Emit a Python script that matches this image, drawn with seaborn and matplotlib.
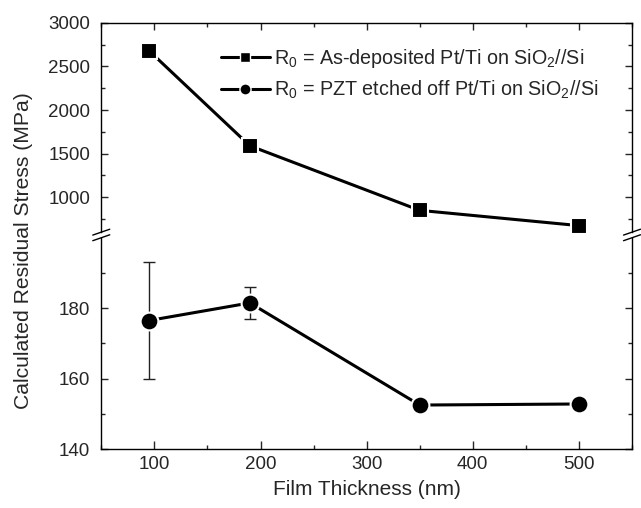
import matplotlib
matplotlib.use("Agg")
import matplotlib.pyplot as plt
from matplotlib.lines import Line2D
from matplotlib.ticker import MultipleLocator
import seaborn as sns

# Film thickness and residual stress values
thickness_nm = [95, 190, 350, 500]
stress_as_deposited = [2680, 1590, 850, 675]
stress_pzt_etched = [176.5, 181.5, 152.5, 152.8]
err_pzt_etched = [16.5, 4.5, 0, 0]

label_as_dep = r"R$_0$ = As-deposited Pt/Ti on SiO$_2$//Si"
label_pzt = r"R$_0$ = PZT etched off Pt/Ti on SiO$_2$//Si"

sns.set_style("ticks")
plt.rcParams["font.family"] = ["Liberation Sans", "DejaVu Sans"]
plt.rcParams["mathtext.fontset"] = "custom"
plt.rcParams["mathtext.rm"] = "Liberation Sans"
plt.rcParams["mathtext.it"] = "Liberation Sans:italic"
plt.rcParams["mathtext.default"] = "regular"

fig = plt.figure(figsize=(6.41, 5.08), dpi=100)
ax_top = fig.add_axes([0.158, 0.543, 0.828, 0.412])
ax_bot = fig.add_axes([0.158, 0.116, 0.828, 0.416], sharex=ax_top)

# upper panel: as-deposited
sns.lineplot(x=thickness_nm, y=stress_as_deposited, ax=ax_top, color="black",
             linewidth=2.2, marker="s", markersize=11.8,
             markeredgecolor="white", markeredgewidth=1.5, zorder=3)

# lower panel: PZT etched off, with error bars
ax_bot.errorbar(thickness_nm, stress_pzt_etched, yerr=err_pzt_etched, fmt="none",
                ecolor="#222222", elinewidth=1, capsize=4.5, capthick=1, zorder=2)
sns.lineplot(x=thickness_nm, y=stress_pzt_etched, ax=ax_bot, color="black",
             linewidth=2.2, marker="o", markersize=12.8,
             markeredgecolor="white", markeredgewidth=1.5, zorder=3)

ax_top.set_xlim(50, 550)
ax_top.set_ylim(600, 3000)
ax_bot.set_ylim(140, 200)

ax_top.set_yticks([1000, 1500, 2000, 2500, 3000])
ax_top.yaxis.set_minor_locator(MultipleLocator(250))
ax_bot.set_yticks([140, 160, 180])
ax_bot.set_yticks([150, 170, 190], minor=True)
ax_bot.set_xticks([100, 200, 300, 400, 500])
ax_bot.xaxis.set_minor_locator(MultipleLocator(50))

for ax in (ax_top, ax_bot):
    for s in ax.spines.values():
        s.set_linewidth(1.0)
        s.set_color("black")
    ax.tick_params(which="major", direction="in", length=5, width=1,
                   labelsize=13.5, left=True, right=True, pad=8)
    ax.tick_params(which="minor", direction="in", length=3, width=1,
                   left=True, right=True)
    ax.set_xlabel("")
    ax.set_ylabel("")

ax_top.spines["bottom"].set_visible(False)
ax_bot.spines["top"].set_visible(False)
ax_top.tick_params(which="both", top=True, bottom=False, labelbottom=False)
ax_bot.tick_params(which="both", top=False, bottom=True)
ax_bot.tick_params(axis="x", which="major", length=6, pad=5)

# break marks
dx, dy = 0.016, 0.014
for ax, yb in ((ax_top, 0.0), (ax_bot, 1.0)):
    for xb in (0.0, 1.0):
        ax.plot([xb - dx, xb + dx], [yb - dy, yb + dy], transform=ax.transAxes,
                color="black", lw=1, clip_on=False)

ax_bot.set_xlabel("Film Thickness (nm)", fontsize=15, labelpad=5)
fig.text(0.036, 0.506, "Calculated Residual Stress (MPa)", rotation=90,
         fontsize=15.2, ha="center", va="center")

handles = [
    Line2D([], [], color="black", lw=2.2, marker="s", markersize=7.5,
           markeredgecolor="white", markeredgewidth=1),
    Line2D([], [], color="black", lw=2.2, marker="o", markersize=8,
           markeredgecolor="white", markeredgewidth=1),
]
ax_top.legend(handles, [label_as_dep, label_pzt], loc="upper left",
              bbox_to_anchor=(0.225, 0.885), frameon=False, fontsize=14.2,
              handlelength=2.5, handletextpad=0.2, labelspacing=0.45,
              borderpad=0, borderaxespad=0)

fig.savefig("out.png", dpi=100)
